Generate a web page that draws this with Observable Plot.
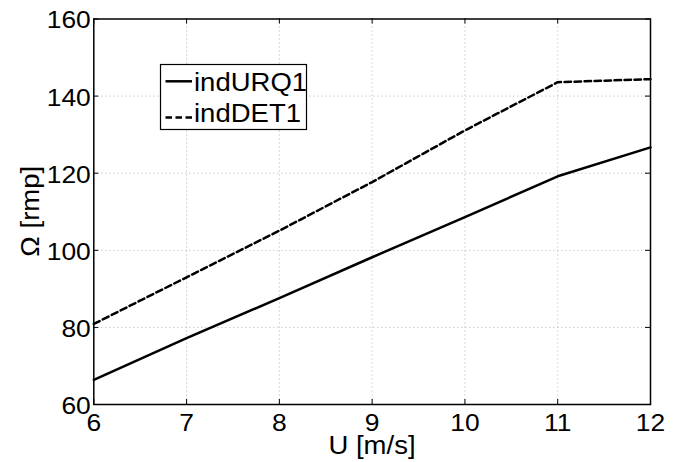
<!DOCTYPE html>
<html>
<head>
<meta charset="utf-8">
<script src="https://cdn.jsdelivr.net/npm/d3@7"></script>
<script src="https://cdn.jsdelivr.net/npm/@observablehq/plot@0.6"></script>
<style>
  html, body { margin: 0; padding: 0; background: #fff; }
</style>
</head>
<body>
<div id="chart"></div>
<script>
const windSpeed = [6, 7, 8, 9, 10, 11, 12];
const indURQ1 = [66.4, 77.2, 87.6, 98.2, 108.6, 119.2, 126.7];
const indDET1 = [80.9, 93.0, 105.1, 117.7, 131.1, 143.6, 144.4];
const xTicks = [6, 7, 8, 9, 10, 11, 12];
const yTicks = [60, 80, 100, 120, 140, 160];
const seriesNames = ["indURQ1", "indDET1"];
const xLabel = "U [m/s]";
const yLabel = "Ω [rmp]";

const rows = [];
windSpeed.forEach((u, i) => {
  rows.push({u, v: indURQ1[i], s: seriesNames[0]});
  rows.push({u, v: indDET1[i], s: seriesNames[1]});
});

const W = 680, H = 462;
const mL = 93.3, mR = 30, mT = 18.5, mB = 58;
const fsTick = 24, fsLabel = 25, fsLegend = 25;
const stretch = 1.1;
const FONT = '"Liberation Sans", Arial, Helvetica, sans-serif';
const DASH = "6.5,3.5";

const xDom = [6, 12], yDom = [60, 160];
const tickPx = 5;
const tyLen = tickPx * (yDom[1] - yDom[0]) / (H - mT - mB);
const txLen = tickPx * (xDom[1] - xDom[0]) / (W - mL - mR);

const plot = Plot.plot({
  width: W, height: H,
  marginLeft: mL, marginRight: mR, marginTop: mT, marginBottom: mB,
  style: {fontFamily: FONT, fontSize: fsTick + "px", background: "#fff", color: "#000"},
  x: {domain: xDom},
  y: {domain: yDom},
  marks: [
    Plot.ruleX(xTicks.slice(1, -1), {stroke: "#b0b0b0", strokeWidth: 1, strokeDasharray: "1,3"}),
    Plot.ruleY(yTicks.slice(1, -1), {stroke: "#b0b0b0", strokeWidth: 1, strokeDasharray: "1,3"}),
    Plot.ruleX(xTicks, {y1: yDom[0], y2: yDom[0] + tyLen, stroke: "#000", strokeWidth: 1}),
    Plot.ruleX(xTicks, {y1: yDom[1], y2: yDom[1] - tyLen, stroke: "#000", strokeWidth: 1}),
    Plot.ruleY(yTicks, {x1: xDom[0], x2: xDom[0] + txLen, stroke: "#000", strokeWidth: 1}),
    Plot.ruleY(yTicks, {x1: xDom[1], x2: xDom[1] - txLen, stroke: "#000", strokeWidth: 1}),
    Plot.axisX(xTicks, {tickSize: 0, tickPadding: 9.5, label: null, fill: "#000"}),
    Plot.axisY(yTicks, {tickSize: 0, tickPadding: 3, dy: 1.8, label: null, fill: "#000"}),
    Plot.line(rows.filter(d => d.s === seriesNames[0]), {x: "u", y: "v", stroke: "#000", strokeWidth: 2.5}),
    Plot.line(rows.filter(d => d.s === seriesNames[1]), {x: "u", y: "v", stroke: "#000", strokeWidth: 2.5, strokeDasharray: DASH}),
    Plot.frame({stroke: "#000", strokeWidth: 1.5})
  ]
});

const svg = d3.select(plot);
svg.selectAll("text").style("font-size", fsTick + "px").style("font-family", FONT);

svg.append("text").attr("x", 372).attr("y", 454).attr("text-anchor", "middle")
  .attr("fill", "#000").style("font-size", fsLabel + "px").style("font-family", FONT).text(xLabel);
svg.append("text").attr("transform", `translate(39,${(mT + H - mB) / 2}) rotate(-90)`)
  .attr("text-anchor", "middle").attr("fill", "#000")
  .style("font-size", fsLabel + "px").style("font-family", FONT).text(yLabel);

const lg = svg.append("g");
lg.append("rect").attr("x", 160.5).attr("y", 64.5).attr("width", 146).attr("height", 65)
  .attr("fill", "#fff").attr("stroke", "#000").attr("stroke-width", 1.2);
seriesNames.forEach((name, i) => {
  const yy = [81.3, 117.5][i];
  const by = [91.3, 122][i];
  lg.append("line").attr("x1", 165.5).attr("x2", 192).attr("y1", yy).attr("y2", yy)
    .attr("stroke", "#000").attr("stroke-width", 2.5)
    .attr("stroke-dasharray", i === 1 ? DASH : null);
  lg.append("text").attr("x", 194).attr("y", by).attr("text-anchor", "start")
    .attr("fill", "#000").style("font-size", fsLegend + "px").style("font-family", FONT).text(name);
});

document.getElementById("chart").appendChild(plot);

// widen glyphs horizontally to match the reference's wider Helvetica rendering
svg.selectAll("text").each(function () {
  const L = this.getComputedTextLength();
  if (L > 0) {
    this.setAttribute("textLength", (L * stretch).toFixed(2));
    this.setAttribute("lengthAdjust", "spacingAndGlyphs");
  }
});
</script>
</body>
</html>
